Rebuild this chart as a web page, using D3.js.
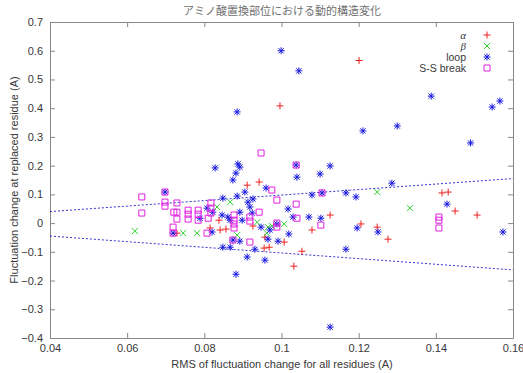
<!DOCTYPE html>
<html>
<head>
<meta charset="utf-8">
<script src="https://cdn.jsdelivr.net/npm/d3@7"></script>
<style>
  body { margin: 0; background: #fff; }
  svg text { font-family: "Liberation Sans", Arial, sans-serif; }
</style>
</head>
<body>
<div id="chart"></div>
<script>
/**
 * DATA
 * */
const titleText = "アミノ酸置換部位における動的構造変化";
const xLabel = "RMS of fluctuation change for all residues (A)";
const yLabel = "Fluctuation change at replaced residue (A)";
const xTicks = [0.04, 0.06, 0.08, 0.1, 0.12, 0.14, 0.16];
const yTicks = [-0.4, -0.3, -0.2, -0.1, 0, 0.1, 0.2, 0.3, 0.4, 0.5, 0.6, 0.7];
const seriesNames = ["α", "β", "loop", "S-S break"];

// α (red +)
const alphaPts = [
  [0.1201, 0.566], [0.0996, 0.408], [0.0911, 0.132], [0.0942, 0.143],
  [0.1126, 0.028], [0.1416, 0.105], [0.1432, 0.108], [0.1450, 0.042],
  [0.1507, 0.028], [0.1276, -0.056], [0.1079, -0.024], [0.1007, -0.066],
  [0.1206, -0.003], [0.1248, -0.014], [0.1053, -0.098], [0.1032, -0.150],
  [0.0841, -0.024], [0.0856, -0.021], [0.0815, -0.017], [0.0838, 0.010],
  [0.0729, -0.035], [0.0926, -0.010], [0.0957, -0.049], [0.0955, -0.087],
  [0.0968, -0.084]
];

// β (green x)
const betaPts = [
  [0.0620, -0.028], [0.0745, -0.035], [0.0781, -0.035], [0.0833, 0.056],
  [0.0867, 0.073], [0.0885, -0.042], [0.0937, 0.003], [0.0965, -0.014],
  [0.0962, -0.035], [0.0975, -0.010], [0.1007, -0.003], [0.1248, 0.108],
  [0.1333, 0.052]
];

// loop (blue asterisk)
const loopPts = [
  [0.0999, 0.600], [0.1045, 0.530], [0.0885, 0.387], [0.1388, 0.442],
  [0.1546, 0.404], [0.1566, 0.425], [0.1300, 0.338], [0.1490, 0.279],
  [0.1211, 0.321], [0.1286, 0.139], [0.1429, 0.066], [0.1574, -0.031],
  [0.1038, 0.202], [0.1126, 0.199], [0.1040, 0.160], [0.1100, 0.171],
  [0.1079, 0.098], [0.1105, 0.105], [0.1167, 0.105], [0.1193, 0.091],
  [0.1017, 0.049], [0.1030, 0.021], [0.1071, 0.021], [0.1102, 0.017],
  [0.0988, -0.003], [0.1019, -0.038], [0.0991, -0.063], [0.1196, -0.017],
  [0.1250, -0.031], [0.1167, -0.091], [0.1126, -0.362], [0.0828, 0.192],
  [0.0887, 0.206], [0.0892, 0.195], [0.0882, 0.174], [0.0874, 0.150],
  [0.0960, 0.122], [0.0905, 0.108], [0.0885, 0.094], [0.0848, 0.087],
  [0.0698, 0.108], [0.0789, 0.017], [0.0807, 0.052], [0.0822, 0.038],
  [0.0820, -0.031], [0.0846, 0.028], [0.0861, 0.021], [0.0867, 0.010],
  [0.0892, 0.038], [0.0898, 0.010], [0.0874, -0.059], [0.0892, -0.063],
  [0.0848, -0.084], [0.0867, -0.084], [0.0911, -0.118], [0.0918, 0.056],
  [0.0913, 0.073], [0.0926, 0.084], [0.0924, 0.035], [0.0947, -0.014],
  [0.0970, -0.024], [0.0965, -0.056], [0.0931, -0.091], [0.0957, -0.129],
  [0.0719, -0.035], [0.0882, -0.178]
];

// S-S break (magenta open square)
const ssPts = [
  [0.0638, 0.091], [0.0638, 0.035], [0.0698, 0.108], [0.0698, 0.073],
  [0.0698, 0.059], [0.0729, 0.070], [0.0721, 0.038], [0.0729, 0.038],
  [0.0729, 0.014], [0.0719, -0.014], [0.0719, -0.035], [0.0758, 0.045],
  [0.0758, 0.031], [0.0758, 0.014], [0.0784, 0.045], [0.0784, 0.031],
  [0.0784, 0.010], [0.0817, 0.070], [0.0817, 0.052], [0.0817, 0.035],
  [0.0810, 0.017], [0.0807, -0.035], [0.0877, 0.028], [0.0877, 0.010],
  [0.0877, -0.003], [0.0877, -0.017], [0.0874, -0.059], [0.0947, 0.244],
  [0.0942, 0.038], [0.0918, 0.021], [0.0918, 0.007], [0.0918, -0.066],
  [0.0988, 0.000], [0.0988, -0.014], [0.0975, 0.115], [0.0988, 0.080],
  [0.1038, 0.202], [0.1038, 0.066], [0.1040, 0.017], [0.1105, 0.105],
  [0.1102, -0.007], [0.1408, 0.021], [0.1408, 0.010], [0.1408, -0.017]
];

// dashed guide lines
const upperLine = [[0.04, 0.04], [0.16, 0.155]];
const lowerLine = [[0.04, -0.045], [0.16, -0.163]];

/**
 * CONSTANTS
 * */
const width = 523,
  height = 373,
  margin = { top: 22, bottom: 35, left: 50, right: 10 };

const colors = ["#f02020", "#30d030", "#1818e0", "#e020e0"];

const svg = d3.select("#chart")
  .append("svg")
  .attr("width", width)
  .attr("height", height);

const xScale = d3.scaleLinear()
  .domain([0.04, 0.16])
  .range([margin.left, width - margin.right]);

const yScale = d3.scaleLinear()
  .domain([-0.4, 0.7])
  .range([height - margin.bottom, margin.top]);

// marker shapes
function plusPath(s) { return `M${-s},0H${s}M0,${-s}V${s}`; }
function crossPath(s) { return `M${-s},${-s}L${s},${s}M${-s},${s}L${s},${-s}`; }
function starPath(s) { return plusPath(s) + crossPath(s * 0.75); }
function squarePath(s) { return `M${-s},${-s}H${s}V${s}H${-s}Z`; }
const shapes = [d => plusPath(3.5), d => crossPath(3), d => starPath(3.5), d => squarePath(3)];

// AXES
const axisColor = "#888";
const labelColor = "#383838";

const gx = svg.append("g")
  .attr("transform", `translate(0,${height - margin.bottom})`)
  .call(d3.axisBottom(xScale).tickValues(xTicks).tickFormat(d3.format("")).tickSizeInner(-5).tickSizeOuter(0).tickPadding(6));
const gy = svg.append("g")
  .attr("transform", `translate(${margin.left},0)`)
  .call(d3.axisLeft(yScale).tickValues(yTicks).tickFormat(d3.format("")).tickSizeInner(-5).tickSizeOuter(0).tickPadding(7));
const gt = svg.append("g")
  .attr("transform", `translate(0,${margin.top})`)
  .call(d3.axisTop(xScale).tickValues(xTicks).tickFormat("").tickSizeInner(-5).tickSizeOuter(0));
const gr = svg.append("g")
  .attr("transform", `translate(${width - margin.right},0)`)
  .call(d3.axisRight(yScale).tickValues(yTicks).tickFormat("").tickSizeInner(-5).tickSizeOuter(0));

[gx, gy, gt, gr].forEach(g => {
  g.selectAll(".domain").attr("stroke", axisColor);
  g.selectAll(".tick line").attr("stroke", axisColor);
  g.selectAll(".tick text").attr("fill", labelColor).style("font-size", "11px");
});

// guide lines
const lineFunc = d3.line().x(d => xScale(d[0])).y(d => yScale(d[1]));
svg.selectAll("path.guide")
  .data([upperLine, lowerLine])
  .join("path")
  .attr("class", "guide")
  .attr("d", lineFunc)
  .attr("fill", "none")
  .attr("stroke", "#3535d0")
  .attr("stroke-width", 1)
  .attr("stroke-dasharray", "2,2");

// points
const allSeries = [alphaPts, betaPts, loopPts, ssPts];
allSeries.forEach((pts, i) => {
  svg.append("g")
    .selectAll("path")
    .data(pts)
    .join("path")
    .attr("transform", d => `translate(${xScale(d[0])},${yScale(d[1])})`)
    .attr("d", shapes[i])
    .attr("fill", "none")
    .attr("stroke", colors[i])
    .attr("stroke-width", 1);
});

// legend
const legend = svg.append("g");
seriesNames.forEach((name, i) => {
  const ly = 35 + i * 11;
  const greek = i < 2;
  legend.append("text")
    .attr("x", 466)
    .attr("y", ly + 3.5)
    .attr("text-anchor", "end")
    .attr("fill", labelColor)
    .style("font-size", greek ? "11px" : "10.5px")
    .style("font-family", greek ? "'Liberation Serif', serif" : null)
    .style("font-style", greek ? "italic" : null)
    .text(name);
  legend.append("path")
    .attr("transform", `translate(487,${ly})`)
    .attr("d", shapes[i])
    .attr("fill", "none")
    .attr("stroke", colors[i]);
});

// titles
svg.append("text")
  .attr("x", 282)
  .attr("y", 15)
  .attr("text-anchor", "middle")
  .attr("fill", "#707070")
  .style("font-size", "11px")
  .style("font-family", "'Noto Sans CJK JP', sans-serif")
  .text(titleText);

svg.append("text")
  .attr("x", 282)
  .attr("y", 368)
  .attr("text-anchor", "middle")
  .attr("fill", labelColor)
  .style("font-size", "11px")
  .text(xLabel);

svg.append("text")
  .attr("transform", `translate(14,${(margin.top + height - margin.bottom) / 2}) rotate(-90)`)
  .attr("text-anchor", "middle")
  .attr("dy", "0.35em")
  .attr("fill", labelColor)
  .style("font-size", "11px")
  .text(yLabel);
</script>
</body>
</html>
